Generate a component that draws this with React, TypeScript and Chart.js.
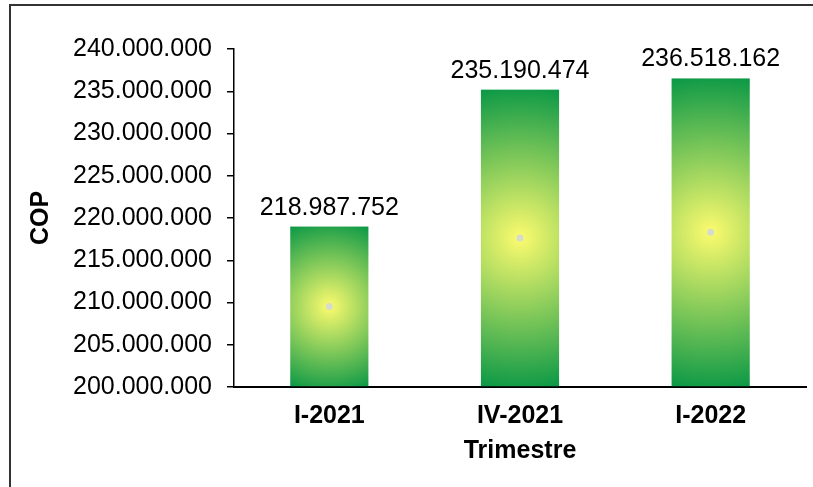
import React, { useEffect, useRef } from "react";
import { Chart, registerables } from "chart.js";

Chart.register(...registerables);

const categories = ["I-2021", "IV-2021", "I-2022"];
const values = [218987752, 235190474, 236518162];
const yMin = 200000000;
const yMax = 240000000;
const yStep = 5000000;
const yTitle = "COP";
const xTitle = "Trimestre";

const fmt = (v: number) => String(Math.round(v)).replace(/\B(?=(\d{3})+(?!\d))/g, ".");

const FONT = "'Liberation Sans', Arial, sans-serif";

const barPainter = {
  id: "barPainter",
  afterDatasetsDraw(chart: any) {
    const ctx = chart.ctx;
    const meta = chart.getDatasetMeta(0);
    const bottom = chart.chartArea.bottom;
    meta.data.forEach((el: any, i: number) => {
      const { x, y, base, width } = el.getProps(["x", "y", "base", "width"], true);
      const b = Math.min(base, bottom);
      const left = x - width / 2;
      const top = Math.min(y, b);
      const h = Math.abs(b - y);
      const cx = x;
      const cy = top + h / 2;
      const r = Math.hypot(width / 2, h / 2);
      ctx.save();
      const g = ctx.createRadialGradient(cx, cy, 0, cx, cy, r);
      g.addColorStop(0, "#fcfb6e");
      g.addColorStop(1, "#0b9846");
      ctx.fillStyle = g;
      ctx.fillRect(left, top, width, h);
      ctx.beginPath();
      ctx.arc(cx, cy, 3.5, 0, Math.PI * 2);
      ctx.fillStyle = "#d6dccb";
      ctx.fill();
      ctx.fillStyle = "#000";
      ctx.font = `25px ${FONT}`;
      ctx.textAlign = "center";
      ctx.textBaseline = "alphabetic";
      ctx.fillText(fmt(values[i]), x, top - 12);
      ctx.restore();
    });
  },
};

export default function App() {
  const ref = useRef<HTMLCanvasElement>(null);
  useEffect(() => {
    if (!ref.current) return;
    const chart = new Chart(ref.current, {
      type: "bar",
      data: {
        labels: categories,
        datasets: [
          {
            data: values,
            base: yMin,
            backgroundColor: "rgba(0,0,0,0)",
            borderWidth: 0,
            barPercentage: 0.41,
            categoryPercentage: 1,
          },
        ],
      },
      options: {
        responsive: false,
        animation: false,
        devicePixelRatio: 1,
        layout: { padding: { left: 26, right: 7, top: 49, bottom: 0 } },
        plugins: { legend: { display: false }, tooltip: { enabled: false } },
        scales: {
          x: {
            grid: { display: true, drawOnChartArea: false, drawTicks: false, color: "rgba(0,0,0,0)" },
            border: { display: true, color: "#000", width: 2 },
            ticks: { color: "#000", font: { family: FONT, size: 25, weight: "bold" }, padding: 14 },
            title: {
              display: true,
              text: xTitle,
              color: "#000",
              font: { family: FONT, size: 25, weight: "bold" },
              padding: { top: 0, bottom: 21 },
            },
            afterFit: (s: any) => {
              s.height = 100;
            },
          },
          y: {
            min: yMin,
            max: yMax,
            grid: { drawOnChartArea: false, drawTicks: true, tickLength: 7, color: "#000", lineWidth: 1.5 },
            border: { display: true, color: "#000", width: 1.5 },
            ticks: {
              stepSize: yStep,
              color: "#000",
              font: { family: FONT, size: 25 },
              padding: 15,
              callback: (v: any) => fmt(Number(v)),
            },
            title: {
              display: true,
              text: yTitle,
              color: "#000",
              font: { family: FONT, size: 25, weight: "bold" },
              padding: { top: 0, bottom: 0 },
            },
            afterFit: (s: any) => {
              s.width = 208;
            },
          },
        },
      },
      plugins: [barPainter],
    });
    return () => chart.destroy();
  }, []);
  return (
    <div style={{ position: "fixed", left: 0, top: 0, width: 813, height: 487, overflow: "hidden", background: "#fff" }}>
      <div
        style={{
          position: "absolute",
          left: 9,
          top: 4,
          width: 900,
          height: 600,
          border: "2px solid #333",
          boxSizing: "border-box",
        }}
      />
      <canvas ref={ref} width={813} height={487} style={{ position: "absolute", left: 0, top: 0, width: 813, height: 487 }} />
    </div>
  );
}
